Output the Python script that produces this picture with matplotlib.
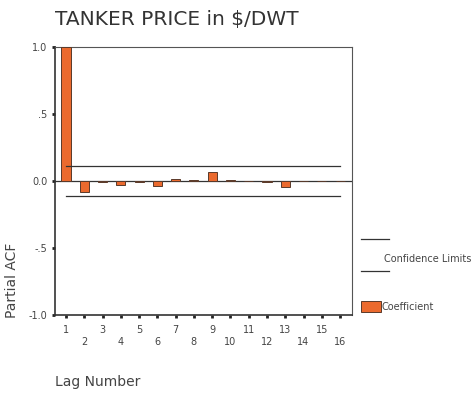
import numpy as np
import matplotlib.pyplot as plt
from matplotlib.lines import Line2D
from matplotlib.patches import Rectangle

# partial ACF values
lags = list(range(1, 17))
pacf = [1.0, -0.08, -0.005, -0.03, -0.005, -0.04, 0.015, 0.005,
        0.07, 0.005, 0.0, -0.005, -0.045, 0.0, 0.0, 0.0]
conf_limit = 0.112
yticks = [-1.0, -0.5, 0.0, 0.5, 1.0]
ytick_labels = ['-1.0', '-.5', '0.0', '.5', '1.0']

W, H = 477, 399
fig = plt.figure(figsize=(W / 100, H / 100), dpi=100)
ax = fig.add_axes([55 / W, 1 - 315 / H, (352 - 55) / W, (315 - 47) / H])

bar_color = '#EB6A2E'
ax.bar(lags, pacf, width=0.5, color=bar_color, edgecolor='#5a3a2a', linewidth=0.7, zorder=3)
ax.axhline(0, color='#333333', lw=0.9, zorder=2)
ax.plot([lags[0], lags[-1]], [conf_limit, conf_limit], color='#333333', lw=0.9, zorder=4)
ax.plot([lags[0], lags[-1]], [-conf_limit, -conf_limit], color='#333333', lw=0.9, zorder=4)

ax.set_xlim(0.4, 16.65)
ax.set_ylim(-1.0, 1.0)
ax.set_yticks(yticks)
ax.set_yticklabels(ytick_labels)
ax.set_xticks(lags)
ax.set_xticklabels([str(l) if l % 2 else '\n' + str(l) for l in lags])
ax.tick_params(axis='both', direction='out', length=2.5, width=2, color='#222222',
               labelsize=7, labelcolor='#444444')
ax.tick_params(axis='x', pad=5)
ax.tick_params(axis='y', pad=3)
for side in ['top', 'right']:
    ax.spines[side].set_color('#555555')
    ax.spines[side].set_linewidth(0.8)
for side in ['left', 'bottom']:
    ax.spines[side].set_color('#333333')
    ax.spines[side].set_linewidth(1.2)

fig.text(55 / W, 1 - 20 / H, 'TANKER PRICE in $/DWT', fontsize=14.5, color='#333333',
         ha='left', va='center')
fig.text(12 / W, 1 - 280 / H, 'Partial ACF', fontsize=10, color='#444444',
         rotation=90, ha='center', va='center')
fig.text(55 / W, 1 - 382 / H, 'Lag Number', fontsize=10, color='#444444',
         ha='left', va='center')

# legend drawn by hand in figure coordinates
for yy in [239, 271]:
    fig.add_artist(Line2D([361 / W, 389 / W], [1 - yy / H, 1 - yy / H],
                          color='#333333', lw=0.9))
fig.text(384 / W, 1 - 259 / H, 'Confidence Limits', fontsize=7, color='#444444',
         ha='left', va='center')
fig.add_artist(Rectangle((361 / W, 1 - 312 / H), 20 / W, 11 / H,
                         facecolor=bar_color, edgecolor='#5a3a2a', lw=0.7))
fig.text(382 / W, 1 - 307 / H, 'Coefficient', fontsize=7, color='#444444',
         ha='left', va='center')

fig.savefig('out.png', dpi=100)
